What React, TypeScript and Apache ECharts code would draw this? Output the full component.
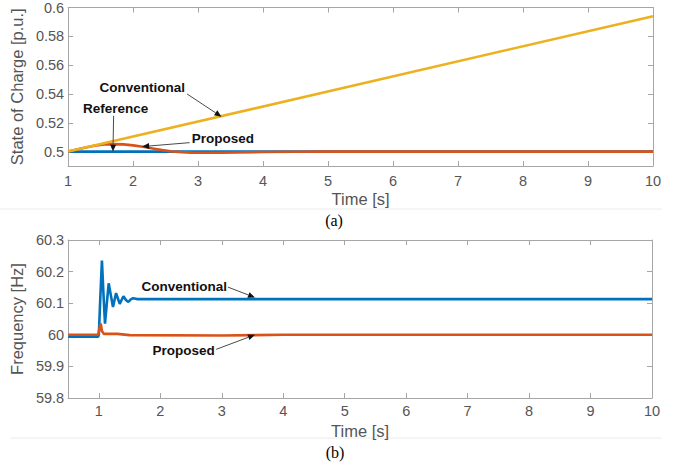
import React, { useEffect, useRef } from "react";
import * as echarts from "echarts";

// ---------- data (a): state of charge ----------
const socXTicks = [1, 2, 3, 4, 5, 6, 7, 8, 9, 10];
const socYTicks = [0.5, 0.52, 0.54, 0.56, 0.58, 0.6];
const socReference: [number, number][] = [[1, 0.5], [10, 0.5]];
const socProposed: [number, number][] = [
  [1, 0.5], [1.2, 0.5022], [1.4, 0.504], [1.55, 0.5049], [1.7, 0.5052], [1.85, 0.505],
  [2.0, 0.5043], [2.15, 0.5034], [2.3, 0.5022], [2.45, 0.501], [2.6, 0.5001], [2.75, 0.4996],
  [2.9, 0.4993], [3.1, 0.4992], [3.35, 0.4992], [3.6, 0.4994], [4.0, 0.4997], [4.5, 0.4999],
  [5, 0.5], [10, 0.5],
];
const socConventional: [number, number][] = [[1, 0.5], [10, 0.594]];

// ---------- data (b): frequency ----------
const freqXTicks = [1, 2, 3, 4, 5, 6, 7, 8, 9, 10];
const freqYTicks = [59.8, 59.9, 60, 60.1, 60.2, 60.3];
const freqConventional: [number, number][] = [
  [0.5, 59.994], [0.99, 59.994], [1.0, 60.0], [1.02, 60.1], [1.05, 60.235], [1.075, 60.13],
  [1.1, 60.035], [1.13, 60.1], [1.16, 60.163], [1.195, 60.125], [1.23, 60.088], [1.255, 60.11],
  [1.28, 60.132], [1.31, 60.115], [1.34, 60.098], [1.37, 60.11], [1.4, 60.122], [1.44, 60.11],
  [1.48, 60.104], [1.52, 60.112], [1.56, 60.116], [1.62, 60.113], [10, 60.113],
];
const freqProposed: [number, number][] = [
  [0.5, 60.0], [0.99, 60.0], [1.01, 60.02], [1.03, 60.036], [1.05, 60.012], [1.08, 60.003],
  [1.3, 60.003], [1.5, 59.999], [3, 59.998], [4, 60.0], [10, 60.0],
];

// ---------- annotations (data coordinates) ----------
type Note = { text: string; at: [number, number]; from: [number, number]; to: [number, number] };
const socNotes: Note[] = [
  { text: "Conventional", at: [2.14, 0.5448], from: [2.83, 0.54], to: [3.36, 0.5242] },
  { text: "Reference", at: [1.73, 0.5297], from: [1.7, 0.5248], to: [1.69, 0.5] },
  { text: "Proposed", at: [3.38, 0.509], from: [2.87, 0.5062], to: [2.14, 0.5035] },
];
const freqNotes: Note[] = [
  { text: "Conventional", at: [2.39, 60.154], from: [3.1, 60.151], to: [3.54, 60.118] },
  { text: "Proposed", at: [2.38, 59.951], from: [2.91, 59.954], to: [3.54, 60.0] },
];
const captions = ["(a)", "(b)"];

const BLUE = "#0072BD";
const ORANGE = "#D95319";
const YELLOW = "#EDB120";
const BOX = "#a6a6a6";
const LABEL = "#555555";
const FONT = "Liberation Sans, Arial, sans-serif";

function xAxes(grid: number, min: number, max: number, ticks: number[]) {
  const common = {
    gridIndex: grid,
    type: "value",
    min,
    max,
    splitLine: { show: false },
    axisLine: { show: true, onZero: false, lineStyle: { color: BOX, width: 1 } },
    axisTick: { show: true, inside: true, length: 5, customValues: ticks, lineStyle: { color: BOX } },
  };
  return [
    {
      ...common,
      position: "bottom",
      axisLabel: { customValues: ticks, color: LABEL, fontSize: 14.5, fontFamily: FONT, margin: grid === 0 ? 7 : 5 },
      name: "Time [s]",
      nameLocation: "middle",
      nameGap: 24,
      nameTextStyle: { color: LABEL, fontSize: 16.5, fontFamily: FONT },
    },
    { ...common, position: "top", axisLabel: { show: false } },
  ];
}

function yAxes(grid: number, min: number, max: number, ticks: number[], name: string) {
  const common = {
    gridIndex: grid,
    type: "value",
    min,
    max,
    splitLine: { show: false },
    axisLine: { show: true, onZero: false, lineStyle: { color: BOX, width: 1 } },
    axisTick: { show: true, inside: true, length: 5, customValues: ticks, lineStyle: { color: BOX } },
  };
  return [
    {
      ...common,
      position: "left",
      axisLabel: { customValues: ticks, color: LABEL, fontSize: 14.5, fontFamily: FONT, margin: 4 },
      name,
      nameLocation: "middle",
      nameGap: 31,
      nameTextStyle: { color: LABEL, fontSize: 16.5, fontFamily: FONT },
    },
    { ...common, position: "right", axisLabel: { show: false } },
  ];
}

function line(name: string, data: [number, number][], color: string, xi: number, yi: number) {
  return {
    name,
    type: "line",
    data,
    xAxisIndex: xi,
    yAxisIndex: yi,
    showSymbol: false,
    symbol: "none",
    lineStyle: { color, width: 2.6 },
    itemStyle: { color },
  };
}

function arrowGraphics(chart: any, notes: Note[], xi: number, yi: number) {
  const out: any[] = [];
  for (const n of notes) {
    const t = chart.convertToPixel({ xAxisIndex: xi, yAxisIndex: yi }, n.at);
    const a = chart.convertToPixel({ xAxisIndex: xi, yAxisIndex: yi }, n.from);
    const b = chart.convertToPixel({ xAxisIndex: xi, yAxisIndex: yi }, n.to);
    const dx = b[0] - a[0];
    const dy = b[1] - a[1];
    const len = Math.sqrt(dx * dx + dy * dy) || 1;
    const ux = dx / len;
    const uy = dy / len;
    const L = 7;
    const W = 3;
    const bx = b[0] - ux * L;
    const by = b[1] - uy * L;
    out.push({
      type: "line",
      shape: { x1: a[0], y1: a[1], x2: bx, y2: by },
      style: { stroke: "#4a4a4a", lineWidth: 1 },
      z: 100,
    });
    out.push({
      type: "polygon",
      shape: { points: [[b[0], b[1]], [bx - uy * W, by + ux * W], [bx + uy * W, by - ux * W]] },
      style: { fill: "#111" },
      z: 100,
    });
    out.push({
      type: "text",
      x: t[0],
      y: t[1],
      style: {
        text: n.text,
        fill: "#111",
        font: `bold 13.5px ${FONT}`,
        align: "center",
        verticalAlign: "middle",
      },
      z: 100,
    });
  }
  return out;
}

export default function App() {
  const ref = useRef<HTMLDivElement>(null);
  useEffect(() => {
    if (!ref.current) return;
    const chart = echarts.init(ref.current, null, { renderer: "svg" });
    chart.setOption({
      animation: false,
      backgroundColor: "#ffffff",
      grid: [
        { left: 62, right: 28, top: 6, height: 160, containLabel: false },
        { left: 63, right: 29, top: 240, height: 158, containLabel: false },
      ],
      xAxis: [...xAxes(0, 1, 10, socXTicks), ...xAxes(1, 0.5, 10, freqXTicks)],
      yAxis: [
        ...yAxes(0, 0.49, 0.6, socYTicks, "State of Charge [p.u.]"),
        ...yAxes(1, 59.8, 60.3, freqYTicks, "Frequency [Hz]"),
      ],
      series: [
        line("Reference", socReference, BLUE, 0, 0),
        line("Proposed", socProposed, ORANGE, 0, 0),
        line("Conventional", socConventional, YELLOW, 0, 0),
        line("Conventional", freqConventional, BLUE, 2, 2),
        line("Proposed", freqProposed, ORANGE, 2, 2),
      ],
    });
    const g: any[] = [
      ...arrowGraphics(chart, socNotes, 0, 0),
      ...arrowGraphics(chart, freqNotes, 2, 2),
      { type: "line", shape: { x1: 0, y1: 209, x2: 662, y2: 209 }, style: { stroke: "#ececec", lineWidth: 1 } },
      { type: "line", shape: { x1: 10, y1: 438, x2: 662, y2: 438 }, style: { stroke: "#ececec", lineWidth: 1 } },
      {
        type: "text",
        x: 334,
        y: 220,
        style: { text: captions[0], fill: "#000", font: "16px Liberation Serif, Times New Roman, serif", align: "center", verticalAlign: "middle" },
      },
      {
        type: "text",
        x: 335,
        y: 452,
        style: { text: captions[1], fill: "#000", font: "16px Liberation Serif, Times New Roman, serif", align: "center", verticalAlign: "middle" },
      },
    ];
    chart.setOption({ graphic: g });
    return () => chart.dispose();
  }, []);
  return (
    <div
      ref={ref}
      style={{ position: "fixed", left: 0, top: 0, width: 681, height: 464, background: "#fff" }}
    />
  );
}
